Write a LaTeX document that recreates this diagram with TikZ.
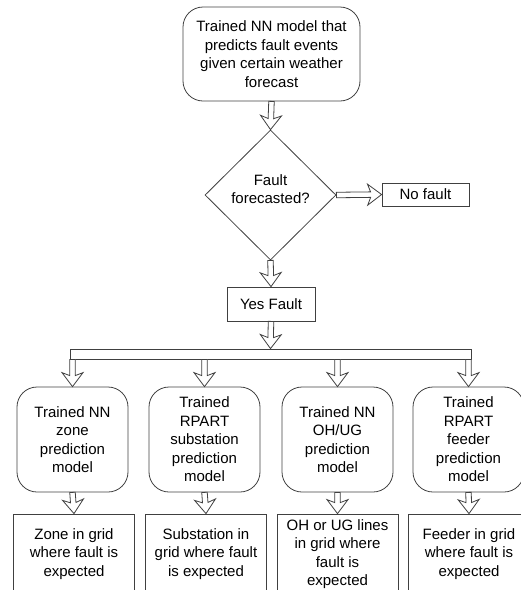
\documentclass[tikz,border=0pt]{standalone}
\usepackage{fontspec}
\setmainfont{Liberation Sans}
\usetikzlibrary{shapes.geometric}
\usetikzlibrary{calc}

\begin{document}
\begin{tikzpicture}[x=1pt, y=-1pt, line join=miter,
  every node/.style={font=\fontsize{15}{18.5}\selectfont, align=center, inner sep=1pt},
  line/.style={draw=black!75, line width=0.8pt},
  roundbox/.style={line, rounded corners=20pt},
  plainbox/.style={line},
  hollow/.style={line, fill=white, to path={
    (\tikztostart) coordinate (hA) (\tikztotarget) coordinate (hB)
    ($(hB)!14pt!(hA)$) coordinate (hC) ($(hB)!11pt!(hA)$) coordinate (hD)
    ($(hA)!2.75pt!90:(hB)$) -- ($(hD)!2.75pt!-90:(hA)$) -- ($(hC)!10.5pt!-90:(hA)$)
    -- (hB) -- ($(hC)!10.5pt!90:(hA)$) -- ($(hD)!2.75pt!90:(hA)$)
    -- ($(hA)!2.75pt!-90:(hB)$) -- cycle}}]

\clip (0,0) rectangle (521,590);

\node[roundbox, minimum width=177pt, minimum height=94pt] (model) at (271.5,54)
  {Trained NN model that\\predicts fault events\\given certain weather\\forecast};
\node[line, diamond, minimum width=131pt, minimum height=130pt, inner sep=0pt, text depth=12pt] (fcst) at (270.5,195)
  {Fault\\forecasted?};
\node[plainbox, minimum width=87pt, minimum height=23pt] (nofault) at (425.5,194.5) {No fault};
\node[plainbox, minimum width=88pt, minimum height=34pt] (yes) at (271,304) {Yes Fault};
\node[plainbox, minimum width=401pt, minimum height=10pt, inner sep=0pt] (bar) at (270.5,354) {};

% the four prediction models
\foreach \i/\x/\txt in {1/72.5/{Trained NN\\zone\\prediction\\model},
                        2/204.5/{Trained\\RPART\\substation\\prediction\\model},
                        3/337.5/{Trained NN\\OH/UG\\prediction\\model},
                        4/468.5/{Trained\\RPART\\feeder\\prediction\\model}}
  \node[roundbox, minimum width=111pt, minimum height=105pt] (m\i) at (\x,439.5) {\txt};

% what each model points to
\foreach \i/\x/\txt in {1/74/{Zone in grid\\where fault is\\expected},
                        2/206/{Substation in\\grid where fault\\is expected},
                        3/337.5/{OH or UG lines\\in grid where\\fault is\\expected},
                        4/469/{Feeder in grid\\where fault is\\expected}}
  \node[plainbox, minimum width=121pt, minimum height=80pt] (r\i) at (\x,554) {\txt};

\draw[hollow] (model.south) to (fcst.north);
\draw[hollow] (fcst.east) to (nofault.west);
\draw[hollow] (fcst.south) to (yes.north);
\draw[hollow] (yes.south) to (bar.north);

\foreach \i in {1,...,4} {
  \draw[hollow] (bar.south -| m\i.north) to (m\i.north);
  \draw[hollow] (m\i.south) to (r\i.north);
}
\end{tikzpicture}
\end{document}
